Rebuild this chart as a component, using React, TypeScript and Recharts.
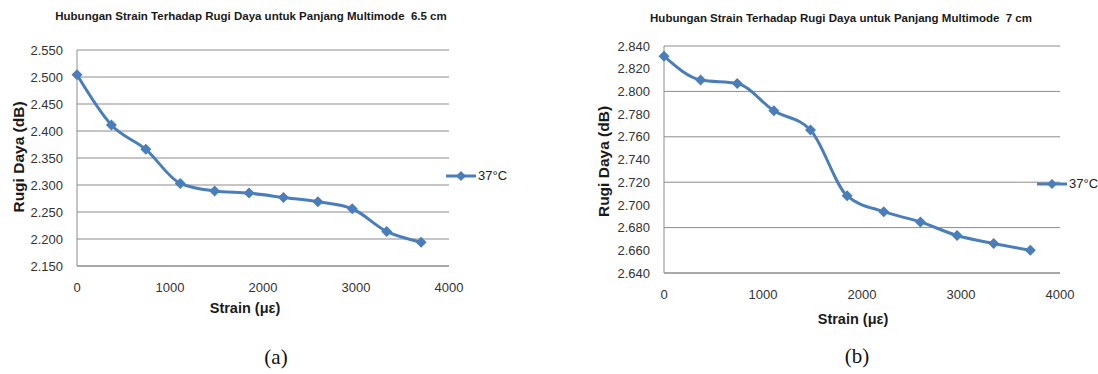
import React from "react";
import { LineChart, Line, XAxis, YAxis, CartesianGrid, Legend } from "recharts";

// ---- data ----
const strainA = [0, 370, 740, 1110, 1480, 1850, 2220, 2590, 2960, 3330, 3700];
const lossA = [2.504, 2.411, 2.366, 2.303, 2.289, 2.285, 2.277, 2.269, 2.256, 2.214, 2.194];
const strainB = [0, 370, 740, 1110, 1480, 1850, 2220, 2590, 2960, 3330, 3700];
const lossB = [2.831, 2.810, 2.807, 2.783, 2.766, 2.708, 2.694, 2.685, 2.673, 2.666, 2.660];
const xTicks = [0, 1000, 2000, 3000, 4000];
const yTicksA = [2.15, 2.2, 2.25, 2.3, 2.35, 2.4, 2.45, 2.5, 2.55];
const yTicksB = [2.64, 2.66, 2.68, 2.7, 2.72, 2.74, 2.76, 2.78, 2.8, 2.82, 2.84];
const seriesName = "37°C";
const titleA = "Hubungan Strain Terhadap Rugi Daya untuk Panjang Multimode  6.5 cm";
const titleB = "Hubungan Strain Terhadap Rugi Daya untuk Panjang Multimode  7 cm";
const xLabel = "Strain (\u03bc\u03b5)";
const yLabel = "Rugi Daya (dB)";

const dataA = strainA.map((s, i) => ({ strain: s, loss: lossA[i] }));
const dataB = strainB.map((s, i) => ({ strain: s, loss: lossB[i] }));

const COLOR = "#4a7ebb";
const GRID = "#8c8c8c";
const FONT = "'Liberation Sans', Arial, sans-serif";

const Diamond = (props: any) => {
  const { cx, cy, index } = props;
  if (cx == null || cy == null) return null;
  const s = 5.5;
  return (
    <path
      key={`d-${index}`}
      d={`M${cx},${cy - s}L${cx + s},${cy}L${cx},${cy + s}L${cx - s},${cy}Z`}
      fill={COLOR}
    />
  );
};

const LegendContent = () => (
  <div style={{ display: "flex", alignItems: "center", fontFamily: FONT, fontSize: 13, color: "#222" }}>
    <svg width={30} height={12}>
      <line x1={0} y1={6} x2={30} y2={6} stroke={COLOR} strokeWidth={3} />
      <path d="M15,1L20,6L15,11L10,6Z" fill={COLOR} />
    </svg>
    <span style={{ marginLeft: 2 }}>{seriesName}</span>
  </div>
);

const makeYLabel = (dx: number, dy: number) => (props: any) => {
  const vb = props.viewBox;
  const x = vb.x + dx;
  const y = vb.y + vb.height / 2 + dy;
  return (
    <text
      x={x}
      y={y}
      transform={`rotate(-90, ${x}, ${y})`}
      textAnchor="middle"
      dominantBaseline="central"
      fontFamily={FONT}
      fontWeight="bold"
      fontSize={15.5}
      fill="#1a1a1a"
    >
      {yLabel}
    </text>
  );
};

const makeXLabel = (dx: number, dy: number) => (props: any) => {
  const vb = props.viewBox;
  return (
    <text
      x={vb.x + vb.width / 2 + dx}
      y={vb.y + dy}
      textAnchor="middle"
      dominantBaseline="central"
      fontFamily={FONT}
      fontWeight="bold"
      fontSize={14.5}
      fill="#1a1a1a"
    >
      {xLabel}
    </text>
  );
};

const tickStyle = { fontFamily: FONT, fontSize: 13, fill: "#333" };

type PanelProps = {
  data: any[];
  width: number;
  margin: any;
  yWidth: number;
  yDomain: [number, number];
  yTicks: number[];
  yLab: (p: any) => any;
  xLab: (p: any) => any;
  legendPos: { left: number; top: number };
};

const Panel = (p: PanelProps) => (
  <LineChart width={p.width} height={374} data={p.data} margin={p.margin}>
    <CartesianGrid horizontal={true} vertical={false} stroke={GRID} strokeWidth={1} />
    <XAxis
      dataKey="strain"
      type="number"
      domain={[0, 4000]}
      ticks={xTicks}
      height={30}
      tickLine={false}
      tickSize={0}
      tickMargin={17}
      axisLine={{ stroke: GRID }}
      tick={tickStyle}
      label={{ content: p.xLab } as any}
    />
    <YAxis
      type="number"
      domain={p.yDomain}
      ticks={p.yTicks}
      width={p.yWidth}
      tickLine={false}
      tickSize={0}
      tickMargin={14}
      axisLine={{ stroke: GRID }}
      tick={tickStyle}
      tickFormatter={(v: number) => v.toFixed(3)}
      label={{ content: p.yLab } as any}
      allowDataOverflow={true}
    />
    <Legend
      layout="horizontal"
      align="center"
      verticalAlign="middle"
      content={<LegendContent />}
      wrapperStyle={{ left: p.legendPos.left, top: p.legendPos.top, width: 80 }}
    />
    <Line
      type="monotone"
      dataKey="loss"
      name={seriesName}
      stroke={COLOR}
      strokeWidth={3}
      dot={Diamond}
      activeDot={false}
      isAnimationActive={false}
    />
  </LineChart>
);

const titleStyle: React.CSSProperties = {
  position: "absolute",
  fontFamily: FONT,
  fontWeight: "bold",
  fontSize: 11.5,
  color: "#1a1a1a",
  whiteSpace: "pre",
  transform: "translate(-50%, -50%)",
};

const captionStyle: React.CSSProperties = {
  position: "absolute",
  fontFamily: "'Liberation Serif', 'Times New Roman', serif",
  fontSize: 21,
  color: "#111",
  transform: "translate(-50%, -50%)",
};

export default function App() {
  return (
    <div style={{ position: "absolute", left: 0, top: 0, width: 1098, height: 374, background: "#fff", overflow: "hidden" }}>
      <div style={{ position: "absolute", left: 0, top: 0 }}>
        <Panel
          data={dataA}
          width={560}
          margin={{ top: 50, right: 111, bottom: 78, left: 0 }}
          yWidth={77}
          yDomain={[2.15, 2.55]}
          yTicks={yTicksA}
          yLab={makeYLabel(18, -1)}
          xLab={makeXLabel(-18, 42)}
          legendPos={{ left: 446, top: 168 }}
        />
      </div>
      <div style={{ position: "absolute", left: 560, top: 0 }}>
        <Panel
          data={dataB}
          width={538}
          margin={{ top: 46, right: 38, bottom: 71, left: 0 }}
          yWidth={104}
          yDomain={[2.64, 2.84]}
          yTicks={yTicksB}
          yLab={makeYLabel(43, 2)}
          xLab={makeXLabel(-9, 46)}
          legendPos={{ left: 477, top: 176 }}
        />
      </div>
      <div style={{ ...titleStyle, left: 251, top: 16 }}>{titleA}</div>
      <div style={{ ...titleStyle, left: 841, top: 18 }}>{titleB}</div>
      <div style={{ ...captionStyle, left: 276, top: 357 }}>(a)</div>
      <div style={{ ...captionStyle, left: 857, top: 356 }}>(b)</div>
    </div>
  );
}
